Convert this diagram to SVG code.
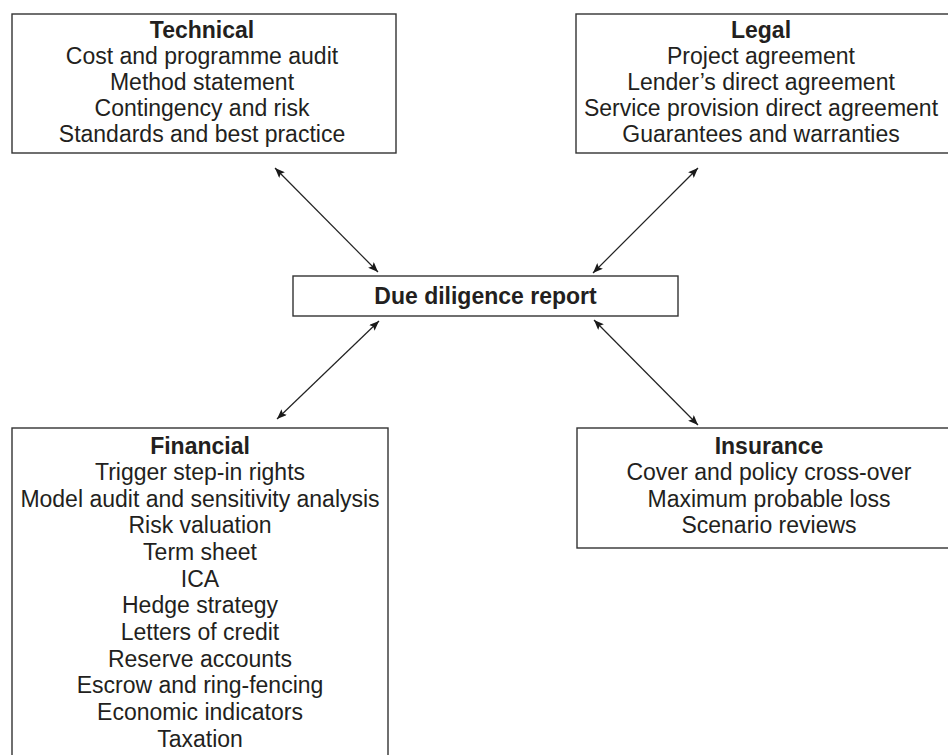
<svg xmlns="http://www.w3.org/2000/svg" width="948" height="755" viewBox="0 0 948 755">
  <style>
    .box { fill: #ffffff; stroke: #333333; stroke-width: 1.4; }
    .txt { font-family: "Liberation Sans", Arial, sans-serif; font-size: 23px; fill: #231f20; text-anchor: middle; }
    .hd { font-weight: bold; }
    .conn { stroke: #222222; stroke-width: 1.2; fill: none; marker-start: url(#head); marker-end: url(#head); }
  </style>
  <defs>
    <marker id="head" viewBox="0 0 10 8" refX="10" refY="4" markerWidth="10" markerHeight="8" markerUnits="userSpaceOnUse" orient="auto-start-reverse">
      <path d="M0,0 L10,4 L0,8 L2,4 Z" fill="#1a1a1a"/>
    </marker>
  </defs>
  <rect width="948" height="755" fill="#ffffff"/>

  <g id="technical">
    <rect class="box" x="12" y="14" width="384" height="139"/>
    <text class="txt hd" x="202" y="38">Technical</text>
    <text class="txt" x="202" y="64">Cost and programme audit</text>
    <text class="txt" x="202" y="90">Method statement</text>
    <text class="txt" x="202" y="116">Contingency and risk</text>
    <text class="txt" x="202" y="142">Standards and best practice</text>
  </g>

  <g id="legal">
    <rect class="box" x="576" y="14" width="390" height="139"/>
    <text class="txt hd" x="761" y="38">Legal</text>
    <text class="txt" x="761" y="64">Project agreement</text>
    <text class="txt" x="761" y="90">Lender’s direct agreement</text>
    <text class="txt" x="761" y="116">Service provision direct agreement</text>
    <text class="txt" x="761" y="142">Guarantees and warranties</text>
  </g>

  <g id="due-diligence">
    <rect class="box" x="293" y="276" width="385" height="40"/>
    <text class="txt hd" x="485.5" y="304">Due diligence report</text>
  </g>

  <g id="financial">
    <rect class="box" x="12" y="428" width="376" height="340"/>
    <text class="txt hd" x="200" y="454">Financial</text>
    <text class="txt" x="200" y="480">Trigger step-in rights</text>
    <text class="txt" x="200" y="507">Model audit and sensitivity analysis</text>
    <text class="txt" x="200" y="533">Risk valuation</text>
    <text class="txt" x="200" y="560">Term sheet</text>
    <text class="txt" x="200" y="587">ICA</text>
    <text class="txt" x="200" y="613">Hedge strategy</text>
    <text class="txt" x="200" y="640">Letters of credit</text>
    <text class="txt" x="200" y="667">Reserve accounts</text>
    <text class="txt" x="200" y="693">Escrow and ring-fencing</text>
    <text class="txt" x="200" y="720">Economic indicators</text>
    <text class="txt" x="200" y="747">Taxation</text>
  </g>

  <g id="insurance">
    <rect class="box" x="577" y="428" width="390" height="120"/>
    <text class="txt hd" x="769" y="454">Insurance</text>
    <text class="txt" x="769" y="480">Cover and policy cross-over</text>
    <text class="txt" x="769" y="507">Maximum probable loss</text>
    <text class="txt" x="769" y="533">Scenario reviews</text>
  </g>

  <g id="connectors">
    <line class="conn" x1="275" y1="168" x2="378" y2="272"/>
    <line class="conn" x1="698" y1="168" x2="593" y2="273"/>
    <line class="conn" x1="379" y1="321" x2="277" y2="419"/>
    <line class="conn" x1="594" y1="320" x2="698" y2="425"/>
  </g>
</svg>
